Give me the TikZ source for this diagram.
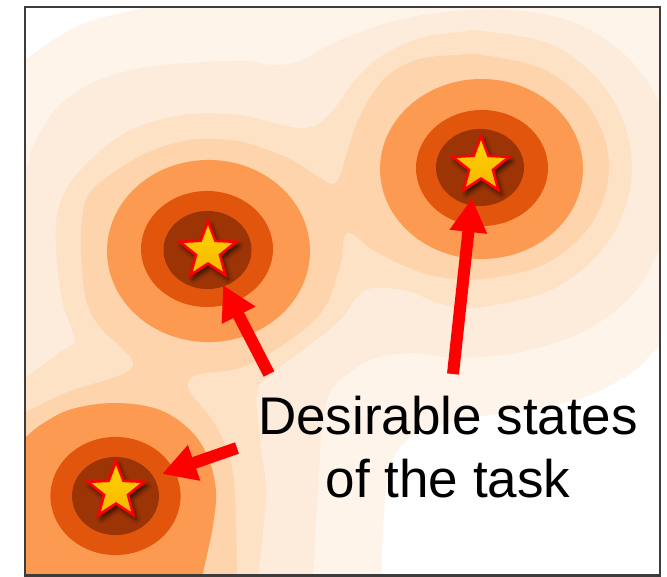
\documentclass[tikz,border=0pt]{standalone}
\usepackage{fontspec}
\newfontfamily\labfont{Liberation Sans}
\usetikzlibrary{shapes.geometric,arrows.meta,shadows.blur}
\definecolor{lvA}{HTML}{FEF4EA}
\definecolor{lvB}{HTML}{FDECDB}
\definecolor{lvC}{HTML}{FDE2C6}
\definecolor{lvD}{HTML}{FDD4AB}
\definecolor{lvE}{HTML}{FC9A52}
\definecolor{lvF}{HTML}{E1560C}
\definecolor{lvG}{HTML}{9D3406}
\definecolor{frameC}{HTML}{3C3C3C}
\definecolor{starTop}{HTML}{FFD600}
\definecolor{starBot}{HTML}{F7B500}
\begin{document}
\begin{tikzpicture}[x=0.75pt,y=-0.75pt,
  goal/.style={star, star points=5, star point ratio=2.35, minimum size=44.5pt, inner sep=0pt,
    draw=red, line width=2pt, top color=starTop, bottom color=starBot,
    blur shadow={shadow xshift=2pt, shadow yshift=-3pt, shadow blur radius=3.5pt, shadow opacity=75}},
  pointer/.style={draw=red, line width=9pt, -{Triangle[length=25.5pt,width=26.5pt]}},
  lab/.style={font=\labfont\fontsize{39.75pt}{47.25pt}\selectfont, align=center, inner sep=0pt}
]
\useasboundingbox (0,0) rectangle (667,577);
\begin{scope}
\clip (25,7) rectangle (660,575.5);
\fill[lvA] (25,7) rectangle (660,575.5);
% white corners
\fill[white] (-20,-20) -- (-20,72) -- plot[smooth] coordinates {(0,72) (25,59) (56,38) (90,21) (146,7) (170,0)} -- (170,-20) -- cycle;
\fill[white] (700,330) -- plot[smooth] coordinates {(670,336) (660,345) (632,373) (585,397) (530,410) (470,418) (420,432) (395,455) (385,500) (381,580) (380,600)} -- (700,600) -- cycle;
% level B
\fill[lvB] (-40,640) -- (-40,175) -- plot[smooth, tension=0.6] coordinates {(0,172) (26,166) (33,146) (56,109) (90,84) (140,68) (190,63) (243,61) (273,65) (300,61) (327,46) (350,36) (380,25) (413,17) (445,12) (482,10) (530,12) (580,25) (625,55) (655,95) (672,150) (668,220) (640,285) (590,328) (530,350) (480,357) (445,357) (410,353) (375,358) (350,372) (330,392) (322,430) (318,490) (313,580) (312,640)} -- cycle;
% level C
\fill[lvC] (-40,640) -- (-40,388) -- plot[smooth, tension=0.6] coordinates {(0,386) (20,380) (36,370) (60,352) (74,343) (72,330) (62,300) (56,250) (58,210) (73,179) (106,146) (140,126) (190,114) (240,115) (270,122) (300,128) (318,124) (335,108) (355,80) (380,57) (420,38) (460,32) (482,31) (557,47) (612,98) (632,167) (612,236) (557,287) (482,307) (445,305) (407,291) (373,288) (357,297) (340,320) (307,347) (273,373) (257,392) (260,440) (266,490) (262,540) (258,580) (257,640)} -- cycle;
% level D
\fill[lvD] (-40,640) -- (-40,418) -- plot[smooth, tension=0.6] coordinates {(0,418) (25,412) (50,400) (73,390) (106,380) (127,372) (133,362) (121,347) (100,327) (86,300) (81,250) (83,212) (92,190) (123,166) (156,149) (190,140) (215,139) (243,142) (270,151) (292,160) (317,176) (332,184) (340,176) (347,153) (357,123) (373,93) (392,72) (420,59) (455,55) (482,55) (545,70) (592,111) (609,167) (592,223) (545,264) (482,279) (440,277) (407,267) (373,250) (347,233) (340,267) (323,310) (290,340) (243,367) (200,374) (188,382) (192,395) (210,417) (223,440) (233,473) (236,523) (237,580) (237,640)} -- cycle;
% level E
\fill[lvE] (481.5,169) ellipse [x radius=76.1pt, y radius=67.5pt];
\fill[lvE] (208.5,251) ellipse [x radius=76.1pt, y radius=68.3pt];
\fill[lvE] (-40,620) -- (-40,470) -- plot[smooth, tension=0.6] coordinates {(0,455) (22,440) (42,424) (72,409) (116,403) (160,410) (192,432) (209,460) (216,492) (213,525) (207,555) (202,580) (200,620)} -- cycle;
% level F
\fill[lvF] (482,168) ellipse [x radius=49.5pt, y radius=43.5pt];
\fill[lvF] (207,249) ellipse [x radius=49.5pt, y radius=43.5pt];
\fill[lvF] (115.5,496) ellipse [x radius=48.8pt, y radius=44.3pt];
% level G
\fill[lvG] (480,167.5) ellipse [x radius=33pt, y radius=28.9pt];
\fill[lvG] (207.5,250) ellipse [x radius=33pt, y radius=29.3pt];
\fill[lvG] (115.5,496) ellipse [x radius=32.6pt, y radius=29.3pt];
\end{scope}
% goals
\node[goal] (g1) at (481,166) {};
\node[goal] (g2) at (208,251) {};
\node[goal] (g3) at (116,491) {};
% label
\node[lab, anchor=north] (lbl) at (448,396) {Desirable states\\of the task};
% arrows
\coordinate (ta) at (269,374);
\coordinate (ha) at (223,285);
\coordinate (tb) at (453,374);
\coordinate (hb) at (472,198);
\coordinate (tc) at (237,448);
\coordinate (hc) at (162,474);
\draw[pointer] (ta) -- (ha);
\draw[pointer] (tb) -- (hb);
\draw[pointer] (tc) -- (hc);
% frame
\draw[frameC, line width=1.9pt] (25,7) rectangle (660,575.5);
\end{tikzpicture}
\end{document}
